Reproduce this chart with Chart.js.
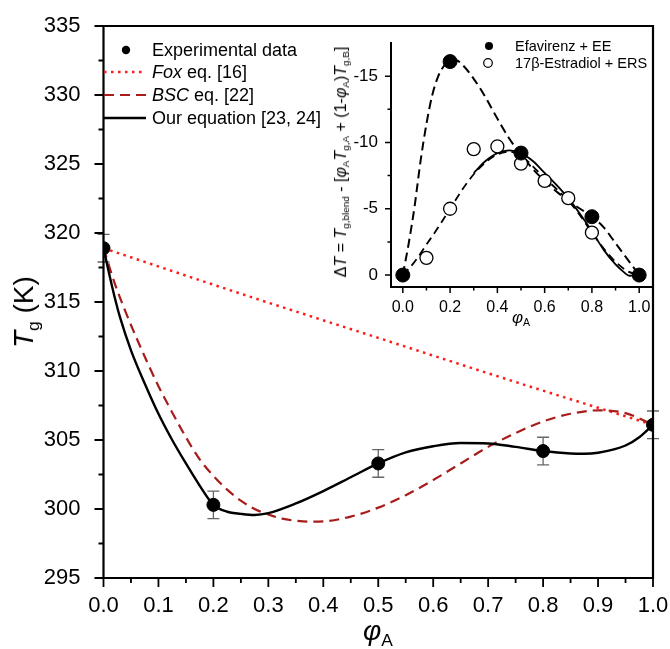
<!DOCTYPE html>
<html>
<head>
<meta charset="utf-8">
<script src="https://cdn.jsdelivr.net/npm/chart.js@4.4.1/dist/chart.umd.min.js"></script>
<style>
html, body { margin: 0; padding: 0; background: #fff; }
#wrap { position: relative; width: 670px; height: 649px; overflow: hidden;
        font-family: Arial, 'Liberation Sans', sans-serif; color: #000; }
canvas { position: absolute; left: 0; top: 0; }
.t { position: absolute; white-space: nowrap; line-height: 1; pointer-events: none; }
.s { font-size: 0.62em; position: relative; top: 0.32em; }
.rot { transform: translate(-50%, -50%) rotate(-90deg); }
.ctr { transform: translate(-50%, -50%); }
svg { position: absolute; left: 0; top: 0; pointer-events: none; }
</style>
</head>
<body>
<div id="wrap">
  <canvas id="main" width="670" height="649"></canvas>
  <canvas id="inset" width="670" height="649"></canvas>

  <svg width="670" height="140">
    <circle cx="126" cy="50" r="4.2" fill="#000"/>
    <line x1="104" y1="72" x2="146" y2="72" stroke="#ff1a1a" stroke-width="2.5" stroke-dasharray="2.5 4.5"/>
    <line x1="104" y1="95" x2="146" y2="95" stroke="#a81c1c" stroke-width="2.2" stroke-dasharray="10 6"/>
    <line x1="104" y1="118" x2="146" y2="118" stroke="#000" stroke-width="2.4"/>
    <circle cx="489" cy="46" r="4" fill="#000"/>
    <circle cx="488" cy="63" r="4.3" fill="#fff" stroke="#000" stroke-width="1.2"/>
  </svg>

  <div class="t" style="left:152px;top:41px;font-size:18px;">Experimental data</div>
  <div class="t" style="left:152px;top:63px;font-size:18px;"><i>Fox</i> eq. [16]</div>
  <div class="t" style="left:152px;top:86px;font-size:18px;"><i>BSC</i> eq. [22]</div>
  <div class="t" style="left:152px;top:109px;font-size:18px;">Our equation [23, 24]</div>

  <div class="t" style="left:515px;top:39px;font-size:14.5px;">Efavirenz + EE</div>
  <div class="t" style="left:515px;top:56px;font-size:14.5px;">17β-Estradiol + ERS</div>

  <div class="t rot" style="left:24px;top:312px;font-size:28px;"><i>T</i><span class="s">g</span> (K)</div>
  <div class="t ctr" style="left:378px;top:631px;font-size:28px;"><i>φ</i><span class="s">A</span></div>
  <div class="t ctr" style="left:521px;top:317px;font-size:17px;"><i>φ</i><span class="s">A</span></div>
  <div class="t rot" style="left:341px;top:162px;font-size:16px;">Δ<i>T</i> = <i>T</i><span class="s">g,blend</span> - [<i>φ</i><span class="s">A</span><i>T</i><span class="s">g,A</span> + (1-<i>φ</i><span class="s">A</span>)<i>T</i><span class="s">g,B</span>]</div>
</div>

<script>
// main plot: measured Tg with error
const expPhi = [0, 0.2, 0.5, 0.8, 1.0];
const expTg = [318.9, 300.3, 303.3, 304.2, 306.1];
const expErr = [1.0, 1.0, 1.0, 1.0, 1.0];

// Fox eq. (red dotted)
const foxPhi = [0, 0.25, 0.5, 0.75, 1.0];
const foxTg = [318.9, 315.6, 312.4, 309.2, 306.1];

// BSC eq. (dark red dashed)
const bscPhi = [0, 0.02, 0.04, 0.06, 0.08, 0.1, 0.125, 0.15, 0.175, 0.2, 0.225, 0.25, 0.275, 0.3, 0.325, 0.35, 0.375, 0.4, 0.45, 0.5, 0.55, 0.6, 0.65, 0.7, 0.75, 0.8, 0.85, 0.9, 0.95, 1.0];
const bscTg = [318.9, 316.4, 314.3, 312.4, 310.6, 308.9, 307.0, 305.2, 303.6, 302.4, 301.4, 300.6, 300.0, 299.6, 299.3, 299.15, 299.08, 299.1, 299.45, 300.1, 301.0, 302.1, 303.3, 304.5, 305.5, 306.35, 306.9, 307.15, 306.95, 306.1];

// our equation (black solid)
const ourPhi = [0, 0.01, 0.02, 0.03, 0.05, 0.075, 0.1, 0.125, 0.15, 0.175, 0.2, 0.225, 0.25, 0.275, 0.3, 0.35, 0.4, 0.45, 0.5, 0.55, 0.6, 0.65, 0.7, 0.75, 0.8, 0.85, 0.875, 0.9, 0.95, 0.975, 1.0];
const ourTg = [318.9, 317.1, 315.4, 313.9, 311.5, 309.1, 306.9, 305.0, 303.3, 301.7, 300.3, 299.8, 299.65, 299.57, 299.7, 300.4, 301.3, 302.3, 303.3, 304.1, 304.55, 304.78, 304.75, 304.5, 304.2, 304.02, 304.0, 304.08, 304.6, 305.2, 306.1];

const mainXTicks = [0, 0.1, 0.2, 0.3, 0.4, 0.5, 0.6, 0.7, 0.8, 0.9, 1.0];
const mainYTicks = [295, 300, 305, 310, 315, 320, 325, 330, 335];

// inset: deviation from additivity
const eePhi = [0, 0.2, 0.5, 0.8, 1.0];
const eeDT = [0, -16.1, -9.2, -4.4, 0];
const ersPhi = [0.1, 0.2, 0.3, 0.4, 0.5, 0.6, 0.7, 0.8];
const ersDT = [-1.3, -5.0, -9.5, -9.7, -8.4, -7.1, -5.8, -3.2];

const eeFitPhi = [0, 0.025, 0.05, 0.075, 0.1, 0.125, 0.15, 0.175, 0.2, 0.225, 0.25, 0.3, 0.35, 0.4, 0.45, 0.5, 0.55, 0.6, 0.65, 0.7, 0.75, 0.8, 0.85, 0.9, 0.95, 1.0];
const eeFitDT = [0, -2.4, -5.2, -8.6, -11.4, -13.6, -15.0, -15.8, -16.2, -16.2, -15.9, -14.8, -13.4, -11.8, -10.3, -9.1, -8.0, -7.1, -6.3, -5.6, -5.0, -4.4, -3.6, -2.4, -1.2, 0];

const ersFitPhi = [0, 0.05, 0.1, 0.15, 0.2, 0.25, 0.3, 0.35, 0.4, 0.45, 0.5, 0.55, 0.6, 0.65, 0.7, 0.75, 0.8, 0.85, 0.9, 0.95, 1.0];
const ersFitDT = [0, -1.0, -2.3, -3.6, -5.0, -6.4, -7.6, -8.5, -9.1, -9.3, -9.0, -8.2, -7.3, -6.5, -5.6, -4.5, -3.2, -2.0, -1.0, -0.3, 0];

const solidPhi = [0.3, 0.35, 0.4, 0.45, 0.5, 0.55, 0.6, 0.65, 0.7, 0.75, 0.8, 0.85, 0.9, 0.93, 0.96, 1.0];
const solidDT = [-7.7, -8.6, -9.2, -9.4, -9.2, -8.6, -7.7, -6.8, -5.8, -4.6, -3.3, -1.9, -0.8, -0.3, 0.05, 0];

const insetXTicks = [0, 0.2, 0.4, 0.6, 0.8, 1.0];
const insetYTicks = [-15, -10, -5, 0];

const FONT = "Arial, 'Liberation Sans', sans-serif";

const pts = (xs, ys) => xs.map((x, i) => ({x: x, y: ys[i]}));
const mids = (arr) => arr.slice(1).map((v, i) => (v + arr[i]) / 2);

// labels may overhang, keep the plot box where the layout padding puts it
const noOverhang = (s) => {
    s.paddingLeft = 0; s.paddingRight = 0;
    s.paddingTop = 0; s.paddingBottom = 0;
};

// axis lines + outward tick marks drawn off the chart's scales
const framePlugin = {
    id: 'frame',
    afterDraw(chart, args, opts) {
        const ctx = chart.ctx, a = chart.chartArea;
        const xs = chart.scales.x, ys = chart.scales.y;
        ctx.save();
        ctx.strokeStyle = '#000';
        ctx.lineCap = 'square';
        ctx.lineWidth = opts.axisWidth;
        ctx.beginPath();
        ctx.moveTo(a.left, a.top);
        ctx.lineTo(a.left, a.bottom);
        ctx.lineTo(a.right, a.bottom);
        if (opts.box) {
            ctx.moveTo(a.left, a.top);
            ctx.lineTo(a.right, a.top);
            ctx.lineTo(a.right, a.bottom);
        }
        ctx.stroke();

        ctx.lineCap = 'butt';
        ctx.lineWidth = opts.tickWidth;
        ctx.beginPath();
        const tickX = (v, len) => {
            const p = xs.getPixelForValue(v);
            ctx.moveTo(p, a.bottom);
            ctx.lineTo(p, a.bottom + len);
        };
        const tickY = (v, len) => {
            const p = ys.getPixelForValue(v);
            ctx.moveTo(a.left, p);
            ctx.lineTo(a.left - len, p);
        };
        opts.xMajor.forEach(v => tickX(v, opts.major));
        mids(opts.xMajor).forEach(v => tickX(v, opts.minor));
        opts.yMajor.forEach(v => tickY(v, opts.major));
        mids(opts.yMajor).forEach(v => tickY(v, opts.minor));
        ctx.stroke();
        ctx.restore();
    }
};

const errorBarPlugin = {
    id: 'errbars',
    beforeDatasetsDraw(chart) {
        const ctx = chart.ctx;
        const xs = chart.scales.x, ys = chart.scales.y;
        ctx.save();
        ctx.strokeStyle = '#666';
        ctx.lineWidth = 1.3;
        ctx.beginPath();
        expPhi.forEach((phi, i) => {
            const px = xs.getPixelForValue(phi);
            const top = ys.getPixelForValue(expTg[i] + expErr[i]);
            const bot = ys.getPixelForValue(expTg[i] - expErr[i]);
            ctx.moveTo(px, top); ctx.lineTo(px, bot);
            ctx.moveTo(px - 6, top); ctx.lineTo(px + 6, top);
            ctx.moveTo(px - 6, bot); ctx.lineTo(px + 6, bot);
        });
        ctx.stroke();
        ctx.restore();
    }
};

const lineSet = (data, color, width, dash) => ({
    data: data,
    showLine: true,
    borderColor: color,
    borderWidth: width,
    borderDash: dash,
    pointRadius: 0,
    pointHoverRadius: 0,
    fill: false,
    cubicInterpolationMode: 'monotone'
});

new Chart(document.getElementById('main'), {
    type: 'line',
    data: {
        datasets: [
            {data: pts(expPhi, expTg), showLine: false, pointRadius: 6.5, pointHoverRadius: 6.5,
             backgroundColor: '#000', borderColor: '#000'},
            lineSet(pts(ourPhi, ourTg), '#000', 2.4, []),
            lineSet(pts(bscPhi, bscTg), '#a81c1c', 2.2, [10, 6]),
            lineSet(pts(foxPhi, foxTg), '#ff1a1a', 2.5, [2.5, 4.5])
        ]
    },
    options: {
        responsive: false,
        animation: false,
        events: [],
        layout: {padding: {left: 3.5, right: 17, top: 26, bottom: 11}},
        plugins: {
            legend: {display: false},
            tooltip: {enabled: false},
            frame: {axisWidth: 2.2, tickWidth: 1.8, major: 9, minor: 5, box: true,
                    xMajor: mainXTicks, yMajor: mainYTicks}
        },
        scales: {
            x: {
                type: 'linear', min: 0, max: 1,
                grid: {display: false}, border: {display: false},
                afterBuildTicks: s => { s.ticks = mainXTicks.map(v => ({value: v})); },
                afterFit: s => { s.height = 60; noOverhang(s); },
                ticks: {color: '#000', font: {family: FONT, size: 22}, padding: 7,
                        maxRotation: 0, autoSkip: false, callback: v => v.toFixed(1)}
            },
            y: {
                type: 'linear', min: 295, max: 335,
                grid: {display: false}, border: {display: false},
                afterBuildTicks: s => { s.ticks = mainYTicks.map(v => ({value: v})); },
                afterFit: s => { s.width = 100; noOverhang(s); },
                ticks: {color: '#000', font: {family: FONT, size: 22}, padding: 15,
                        autoSkip: false, callback: v => String(v)}
            }
        }
    },
    plugins: [framePlugin, errorBarPlugin]
});

new Chart(document.getElementById('inset'), {
    type: 'line',
    data: {
        datasets: [
            {data: pts(eePhi, eeDT), showLine: false, pointRadius: 7, pointHoverRadius: 7,
             backgroundColor: '#000', borderColor: '#000'},
            {data: pts(ersPhi, ersDT), showLine: false, pointRadius: 6.5, pointHoverRadius: 6.5,
             backgroundColor: '#fff', borderColor: '#000', borderWidth: 1.3},
            lineSet(pts(solidPhi, solidDT), '#000', 1.8, []),
            lineSet(pts(eeFitPhi, eeFitDT), '#000', 2, [9, 5]),
            lineSet(pts(ersFitPhi, ersFitDT), '#000', 1.8, [8, 5])
        ]
    },
    options: {
        responsive: false,
        animation: false,
        events: [],
        layout: {padding: {left: 331, right: 19, top: 43, bottom: 332}},
        plugins: {
            legend: {display: false},
            tooltip: {enabled: false},
            frame: {axisWidth: 2, tickWidth: 1.5, major: 6, minor: 3.5, box: false,
                    xMajor: insetXTicks, yMajor: insetYTicks}
        },
        scales: {
            x: {
                type: 'linear', min: -0.05, max: 1.05,
                grid: {display: false}, border: {display: false},
                afterBuildTicks: s => { s.ticks = insetXTicks.map(v => ({value: v})); },
                afterFit: s => { s.height = 30; noOverhang(s); },
                ticks: {color: '#000', font: {family: FONT, size: 16}, padding: 3,
                        maxRotation: 0, autoSkip: false, callback: v => v.toFixed(1)}
            },
            y: {
                type: 'linear', min: -17.5, max: 0.9, reverse: true,
                grid: {display: false}, border: {display: false},
                afterBuildTicks: s => { s.ticks = insetYTicks.map(v => ({value: v})); },
                afterFit: s => { s.width = 60; noOverhang(s); },
                ticks: {color: '#000', font: {family: FONT, size: 17}, padding: 5,
                        autoSkip: false, callback: v => String(v)}
            }
        }
    },
    plugins: [framePlugin]
});
</script>
</body>
</html>
